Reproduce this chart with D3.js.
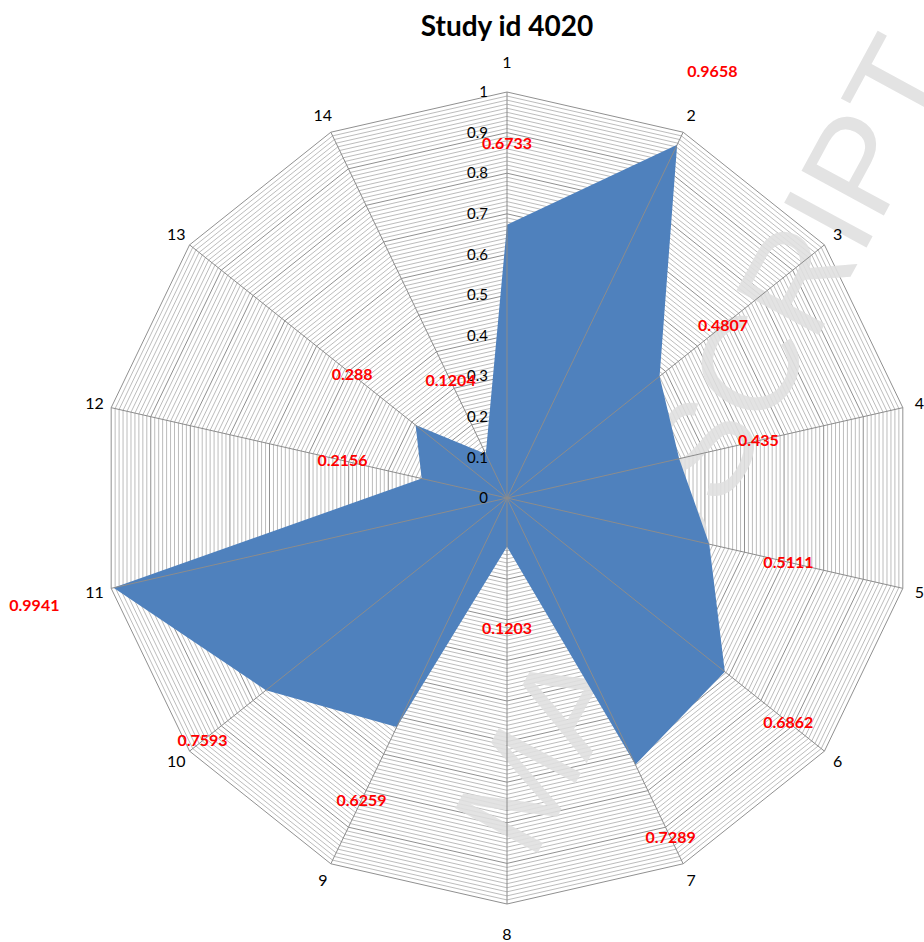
<!DOCTYPE html>
<html>
<head>
<meta charset="utf-8">
<script src="https://cdn.jsdelivr.net/npm/d3@7"></script>
<style>
  body { margin: 0; background: #fff; }
  svg { display: block; font-family: Lato, "Open Sans", sans-serif; }
</style>
</head>
<body>
<div id="radar"></div>
<script>
// chart data
var axes = ["1","2","3","4","5","6","7","8","9","10","11","12","13","14"];
var values = [0.6733, 0.9658, 0.4807, 0.435, 0.5111, 0.6862, 0.7289, 0.1203, 0.6259, 0.7593, 0.9941, 0.2156, 0.288, 0.1204];
var valueLabels = ["0.6733","0.9658","0.4807","0.435","0.5111","0.6862","0.7289","0.1203","0.6259","0.7593","0.9941","0.2156","0.288","0.1204"];
var ticks = [0, 0.1, 0.2, 0.3, 0.4, 0.5, 0.6, 0.7, 0.8, 0.9, 1];
var tickLabels = ["0","0.1","0.2","0.3","0.4","0.5","0.6","0.7","0.8","0.9","1"];
var title = "Study id 4020";

// dimensions
var width = 924, height = 942,
    cx = 507, cy = 498, R = 406;

var svg = d3.select("#radar")
  .append("svg")
  .attr("width", width)
  .attr("height", height);

var r = d3.scaleLinear().domain([0, 1]).range([0, R]);
var n = axes.length;
var angle = function(i) { return i * 2 * Math.PI / n; };

var g = svg.append("g")
  .attr("transform", "translate(" + cx + "," + cy + ")");

// ring lines (minor every 0.01, major every 0.1)
var ringLine = d3.lineRadial()
  .angle(function(d, i) { return angle(i); })
  .radius(function(d) { return r(d); })
  .curve(d3.curveLinearClosed);

var minor = d3.range(1, 100).map(function(k) { return k / 100; })
  .filter(function(v) { return Math.round(v * 100) % 10 != 0; });

g.selectAll(".minor")
  .data(minor)
  .enter()
  .append("path")
  .attr("class", "minor")
  .attr("d", function(v) { return ringLine(axes.map(function() { return v; })); })
  .style("fill", "none")
  .style("stroke", "#b4b4b4")
  .style("stroke-width", 0.9);

g.selectAll(".major")
  .data(ticks.slice(1))
  .enter()
  .append("path")
  .attr("class", "major")
  .attr("d", function(v) { return ringLine(axes.map(function() { return v; })); })
  .style("fill", "none")
  .style("stroke", "#909090")
  .style("stroke-width", 1);

// watermark (under the series)
g.append("text")
  .attr("transform", "translate(198,-53) rotate(-61.5)")
  .attr("text-anchor", "middle")
  .attr("dy", "0.35em")
  .style("font-family", "'Liberation Sans', Arial, sans-serif")
  .style("font-size", "136px")
  .style("fill", "#e0e0e0")
  .style("opacity", 0.9)
  .text("MANUSCRIPT");

// the series polygon
g.append("path")
  .datum(values)
  .attr("d", d3.lineRadial()
    .angle(function(d, i) { return angle(i); })
    .radius(function(d) { return r(d); })
    .curve(d3.curveLinearClosed))
  .style("fill", "#4f81bd")
  .style("stroke", "none");

// spokes
g.selectAll(".spoke")
  .data(axes)
  .enter()
  .append("line")
  .attr("class", "spoke")
  .attr("x1", 0).attr("y1", 0)
  .attr("x2", function(d, i) { return Math.sin(angle(i)) * r(1); })
  .attr("y2", function(d, i) { return -Math.cos(angle(i)) * r(1); })
  .style("stroke", "#8c8c8c")
  .style("stroke-width", 1);

// radial tick labels
g.selectAll(".tick")
  .data(ticks)
  .enter()
  .append("text")
  .attr("class", "tick")
  .attr("x", -19)
  .attr("y", function(d) { return -r(d); })
  .attr("dy", "0.35em")
  .attr("text-anchor", "end")
  .style("font-size", "15px")
  .style("fill", "#000")
  .text(function(d, i) { return tickLabels[i]; });

// category labels
var catR = function(i) { return R + 17 + 13 * Math.pow(Math.abs(Math.cos(angle(i))), 20); };
g.selectAll(".cat")
  .data(axes)
  .enter()
  .append("text")
  .attr("class", "cat")
  .attr("x", function(d, i) { return Math.sin(angle(i)) * catR(i); })
  .attr("y", function(d, i) { return -Math.cos(angle(i)) * catR(i); })
  .attr("dy", "0.35em")
  .attr("text-anchor", "middle")
  .style("font-size", "16px")
  .style("fill", "#000")
  .text(function(d) { return d; });

// data labels, red, pushed 0.2 out along each spoke
g.selectAll(".val")
  .data(values)
  .enter()
  .append("text")
  .attr("class", "val")
  .attr("x", function(d, i) { return Math.sin(angle(i)) * r(d + 0.2); })
  .attr("y", function(d, i) { return -Math.cos(angle(i)) * r(d + 0.2); })
  .attr("dy", "0.35em")
  .attr("text-anchor", "middle")
  .style("font-size", "16px")
  .style("font-weight", "bold")
  .style("fill", "#ff0000")
  .text(function(d, i) { return valueLabels[i]; });

// title
svg.append("text")
  .attr("x", cx)
  .attr("y", 36)
  .attr("text-anchor", "middle")
  .style("font-size", "28px")
  .style("font-weight", "bold")
  .style("fill", "#000")
  .text(title);
</script>
</body>
</html>
